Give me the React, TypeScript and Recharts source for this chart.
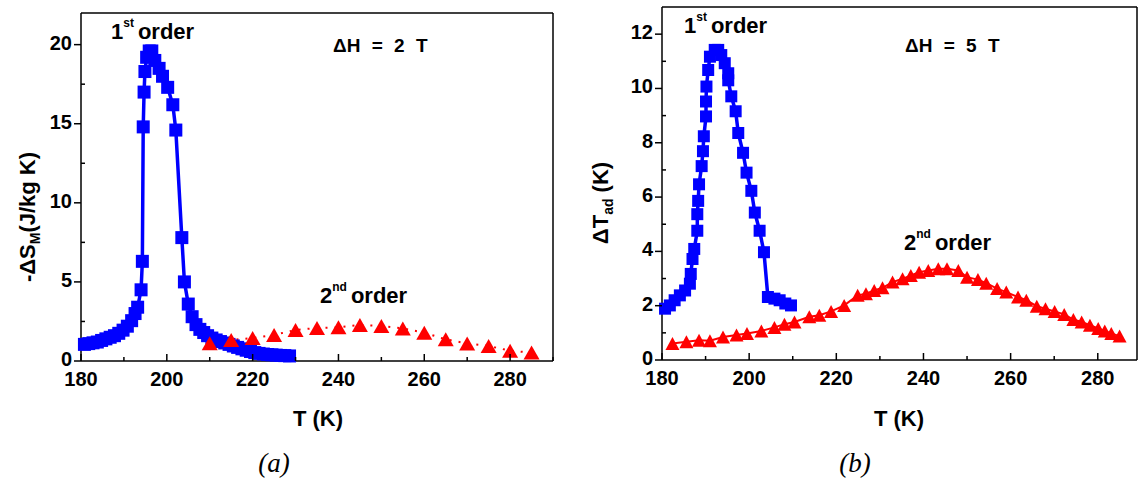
import React from 'react';
import { ComposedChart, Line, XAxis, YAxis } from 'recharts';

const FONT = '"Liberation Sans", Arial, Helvetica, sans-serif';
const SERIF = '"Liberation Serif", "Times New Roman", serif';
const BLUE = '#0000FF';
const RED = '#FF0000';

// (a) magnetic entropy change, ΔH = 2 T — first-order sample
const tempA1 = [
  180.8, 181.8, 182.8, 183.8, 184.8, 185.8, 186.8, 187.8, 188.8, 189.8, 190.8, 191.8, 192.6, 193.2,
  194.0, 194.3, 194.5, 194.7, 194.9, 195.3, 195.9, 196.5, 197.2, 198.2, 199.0, 200.2, 201.4, 202.1,
  203.5, 204.1, 205.0, 205.9, 206.8, 207.7, 208.6, 209.5, 210.5, 211.5, 212.5, 213.5, 214.5, 215.5,
  216.5, 217.5, 218.5, 219.5, 220.5, 221.5, 222.5, 223.5, 224.5, 225.5, 226.5, 227.5, 228.6,
];
const entropyA1 = [
  1.05, 1.1, 1.15, 1.2, 1.3, 1.4, 1.5, 1.6, 1.75, 1.95, 2.2, 2.55, 3.0, 3.4,
  4.5, 6.3, 14.8, 17.0, 18.3, 19.2, 19.6, 19.6, 19.0, 18.5, 18.0, 17.3, 16.2, 14.6,
  7.8, 5.0, 3.6, 2.8, 2.3, 2.0, 1.8, 1.6, 1.45, 1.33, 1.23, 1.14, 1.05, 0.95,
  0.86, 0.77, 0.68, 0.6, 0.53, 0.48, 0.44, 0.41, 0.39, 0.37, 0.35, 0.34, 0.32,
];

// (a) second-order sample
const tempA2 = [210, 215, 220, 225, 230, 235, 240, 245, 250, 255, 260, 265, 270, 275, 280, 285];
const entropyA2 = [1.12, 1.33, 1.45, 1.65, 1.96, 2.09, 2.13, 2.28, 2.22, 2.06, 1.79, 1.37, 1.11, 0.95, 0.65, 0.53];

// (b) adiabatic temperature change, ΔH = 5 T — first-order sample
const tempB1 = [
  180.7, 181.8, 182.9, 184.1, 185.3, 186.4, 186.6, 187.0, 187.4, 188.1, 188.1, 188.3, 188.5, 189.1,
  189.4, 189.6, 190.1, 190.1, 190.2, 190.6, 191.0, 192.1, 192.9, 193.6, 194.4, 195.2, 195.2, 195.9,
  196.9, 197.5, 198.6, 199.4, 200.5, 201.3, 202.4, 203.4, 204.3, 205.8, 207.0, 208.3, 209.6,
];
const adiabB1 = [
  1.89, 2.01, 2.2, 2.38, 2.56, 2.81, 3.17, 3.72, 4.09, 4.76, 5.37, 5.86, 6.47, 7.14,
  7.69, 8.24, 8.97, 9.52, 10.07, 10.68, 11.17, 11.42, 11.42, 11.23, 10.93, 10.56, 10.3, 9.71,
  9.16, 8.36, 7.63, 6.9, 6.23, 5.43, 4.76, 3.97, 2.32, 2.26, 2.2, 2.08, 2.01,
];

// (b) second-order sample
const tempB2 = [
  182.4, 185.6, 188.5, 191.0, 194.0, 197.1, 199.5, 202.8, 205.8, 208.1, 210.4, 213.8, 216.1, 218.8,
  221.8, 224.9, 226.8, 228.7, 230.6, 232.9, 235.2, 237.1, 239.0, 241.1, 243.4, 245.4, 248.0, 250.0,
  252.5, 254.4, 256.9, 259.0, 261.7, 263.6, 266.0, 268.0, 270.1, 272.3, 274.4, 276.3, 278.2, 280.1,
  281.6, 283.1, 285.0,
];
const adiabB2 = [
  0.61, 0.67, 0.73, 0.71, 0.85, 0.92, 0.98, 1.07, 1.2, 1.32, 1.4, 1.59, 1.65, 1.79,
  2.01, 2.38, 2.44, 2.56, 2.66, 2.87, 2.99, 3.11, 3.23, 3.3, 3.36, 3.36, 3.3, 3.05,
  2.96, 2.83, 2.63, 2.5, 2.32, 2.2, 1.98, 1.89, 1.79, 1.68, 1.49, 1.4, 1.28, 1.16,
  1.07, 0.98, 0.88,
];

// axis ticks (majors are labelled, minors are short inner marks)
const tempTicks = [180, 190, 200, 210, 220, 230, 240, 250, 260, 270, 280, 290];
const tempLabels = [180, 200, 220, 240, 260, 280];
const entropyTicks = [0, 2.5, 5, 7.5, 10, 12.5, 15, 17.5, 20];
const entropyLabels = [0, 5, 10, 15, 20];
const adiabTicks = [0, 1, 2, 3, 4, 5, 6, 7, 8, 9, 10, 11, 12];
const adiabLabels = [0, 2, 4, 6, 8, 10, 12];

const toRows = (xs: number[], ys: number[]) => xs.map((t, i) => ({ t, v: ys[i] }));

type Side = 'bottom' | 'top' | 'left' | 'right';

function makeTick(side: Side, labels: number[], showText: boolean) {
  return (props: any) => {
    const { x, y, payload, index } = props;
    const v = payload.value as number;
    const major = labels.includes(v);
    const len = major ? 7 : 4;
    const common = { stroke: '#000', strokeWidth: 1.5 };
    let mark: React.ReactNode = null;
    let label: React.ReactNode = null;
    if (side === 'bottom') {
      mark = <line x1={x} x2={x} y1={y} y2={y - len} {...common} />;
      if (major && showText)
        label = (
          <text x={x} y={y + 25} textAnchor="middle" fontFamily={FONT} fontWeight="bold" fontSize={20} fill="#000">
            {v}
          </text>
        );
    } else if (side === 'top') {
      mark = <line x1={x} x2={x} y1={y} y2={y + len} {...common} />;
    } else if (side === 'left') {
      mark = major ? (
        <line x1={x} x2={x - 7} y1={y} y2={y} {...common} />
      ) : (
        <line x1={x} x2={x + 4} y1={y} y2={y} {...common} />
      );
      if (major && showText)
        label = (
          <text x={x - 9} y={y + 5} textAnchor="end" fontFamily={FONT} fontWeight="bold" fontSize={20} fill="#000">
            {v}
          </text>
        );
    } else {
      mark = <line x1={x} x2={x - len} y1={y} y2={y} {...common} />;
    }
    return (
      <g key={`${side}-${index}`}>
        {mark}
        {label}
      </g>
    );
  };
}

const squareDot = (size: number) => (p: any) => (
  <rect key={`s-${p.index}`} x={p.cx - size / 2} y={p.cy - size / 2} width={size} height={size} fill={BLUE} />
);

const triangleDot = (w: number, h: number) => (p: any) => (
  <polygon
    key={`t-${p.index}`}
    points={`${p.cx - w / 2},${p.cy + h / 2} ${p.cx + w / 2},${p.cy + h / 2} ${p.cx},${p.cy - h / 2}`}
    fill={RED}
  />
);

const axisLine = { stroke: '#000', strokeWidth: 1.5 };

interface PanelProps {
  left: number;
  width: number;
  height: number;
  margin: { top: number; right: number; bottom: number; left: number };
  xDomain: [number, number];
  yDomain: [number, number];
  yTicks: number[];
  yLabels: number[];
  first: { t: number; v: number }[];
  second: { t: number; v: number }[];
  squareSize: number;
  tri: [number, number];
  secondDash?: string;
}

// Each panel: the four axes form the frame; 1px-thick axes so the plot box equals margin box
function Panel(p: PanelProps) {
  const m = { top: p.margin.top - 1, right: p.margin.right - 1, bottom: p.margin.bottom - 1, left: p.margin.left - 1 };
  return (
    <div style={{ position: 'absolute', left: p.left, top: 0 }}>
      <ComposedChart width={p.width} height={p.height} margin={m}>
        <XAxis
          xAxisId="b"
          dataKey="t"
          type="number"
          domain={p.xDomain}
          ticks={tempTicks}
          interval={0}
          height={1}
          tickSize={0}
          tickMargin={0}
          tickLine={false}
          axisLine={axisLine}
          tick={makeTick('bottom', tempLabels, true)}
        />
        <XAxis
          xAxisId="t"
          orientation="top"
          dataKey="t"
          type="number"
          domain={p.xDomain}
          ticks={tempTicks}
          interval={0}
          height={1}
          tickSize={0}
          tickMargin={0}
          tickLine={false}
          axisLine={axisLine}
          tick={makeTick('top', tempLabels, false)}
        />
        <YAxis
          yAxisId="l"
          type="number"
          domain={p.yDomain}
          ticks={p.yTicks}
          interval={0}
          width={1}
          tickSize={0}
          tickMargin={0}
          tickLine={false}
          axisLine={axisLine}
          tick={makeTick('left', p.yLabels, true)}
        />
        <YAxis
          yAxisId="r"
          orientation="right"
          type="number"
          domain={p.yDomain}
          ticks={p.yTicks}
          interval={0}
          width={1}
          tickSize={0}
          tickMargin={0}
          tickLine={false}
          axisLine={axisLine}
          tick={makeTick('right', p.yLabels, false)}
        />
        <Line
          xAxisId="b"
          yAxisId="l"
          data={p.first}
          dataKey="v"
          stroke={BLUE}
          strokeWidth={3.5}
          dot={squareDot(p.squareSize)}
          activeDot={false}
          isAnimationActive={false}
        />
        <Line
          xAxisId="b"
          yAxisId="l"
          data={p.second}
          dataKey="v"
          stroke={RED}
          strokeWidth={2}
          strokeDasharray={p.secondDash}
          dot={triangleDot(p.tri[0], p.tri[1])}
          activeDot={false}
          isAnimationActive={false}
        />
      </ComposedChart>
    </div>
  );
}

const txt = { fontFamily: FONT, fontWeight: 'bold' as const, fill: '#000' };

export default function App() {
  return (
    <div style={{ position: 'absolute', left: 0, top: 0, width: 1139, height: 480, background: '#fff' }}>
      <Panel
        left={0}
        width={575}
        height={400}
        margin={{ top: 13, left: 81, right: 22, bottom: 39 }}
        xDomain={[180, 290]}
        yDomain={[0, 22]}
        yTicks={entropyTicks}
        yLabels={entropyLabels}
        first={toRows(tempA1, entropyA1)}
        second={toRows(tempA2, entropyA2)}
        squareSize={13}
        tri={[16, 14]}
        secondDash="2 7"
      />
      <Panel
        left={575}
        width={564}
        height={400}
        margin={{ top: 7, left: 87, right: 2, bottom: 40 }}
        xDomain={[180, 289]}
        yDomain={[0, 13]}
        yTicks={adiabTicks}
        yLabels={adiabLabels}
        first={toRows(tempB1, adiabB1)}
        second={toRows(tempB2, adiabB2)}
        squareSize={12}
        tri={[14, 13]}
      />
      <svg
        width={1139}
        height={480}
        style={{ position: 'absolute', left: 0, top: 0, pointerEvents: 'none' }}
      >
        {/* panel (a) annotations */}
        <text x={111} y={39} fontSize={22} {...txt}>
          1<tspan dy={-12} fontSize={12}>st</tspan>
          <tspan dy={12} dx={4}>order</tspan>
        </text>
        <text x={333} y={52} fontSize={19} {...txt} style={{ wordSpacing: 6 }}>
          ΔH = 2 T
        </text>
        <text x={320} y={303} fontSize={22} {...txt}>
          2<tspan dy={-12} fontSize={12}>nd</tspan>
          <tspan dy={12} dx={4}>order</tspan>
        </text>
        <text transform="translate(35,217) rotate(-90)" textAnchor="middle" fontSize={22} {...txt}>
          -ΔS<tspan dy={5} fontSize={14}>M</tspan>
          <tspan dy={-5}>(J/kg K)</tspan>
        </text>
        <text x={318} y={426} textAnchor="middle" fontSize={22} {...txt}>
          T (K)
        </text>
        <text x={274} y={472} textAnchor="middle" fontFamily={SERIF} fontStyle="italic" fontSize={27} fill="#000">
          (a)
        </text>

        {/* panel (b) annotations */}
        <text x={684} y={33} fontSize={22} {...txt}>
          1<tspan dy={-12} fontSize={12}>st</tspan>
          <tspan dy={12} dx={4}>order</tspan>
        </text>
        <text x={905} y={52} fontSize={19} {...txt} style={{ wordSpacing: 6 }}>
          ΔH = 5 T
        </text>
        <text x={904} y={250} fontSize={22} {...txt}>
          2<tspan dy={-12} fontSize={12}>nd</tspan>
          <tspan dy={12} dx={4}>order</tspan>
        </text>
        <text transform="translate(608,203) rotate(-90)" textAnchor="middle" fontSize={22} {...txt}>
          ΔT<tspan dy={5} fontSize={14}>ad</tspan>
          <tspan dy={-5}> (K)</tspan>
        </text>
        <text x={899} y={426} textAnchor="middle" fontSize={22} {...txt}>
          T (K)
        </text>
        <text x={855} y={472} textAnchor="middle" fontFamily={SERIF} fontStyle="italic" fontSize={27} fill="#000">
          (b)
        </text>
      </svg>
    </div>
  );
}
